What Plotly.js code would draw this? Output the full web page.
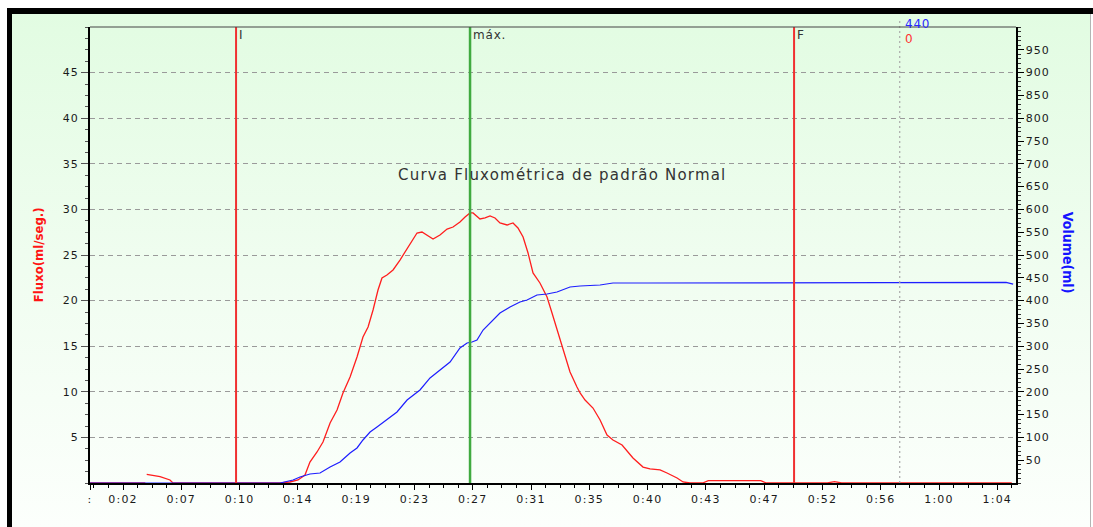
<!DOCTYPE html>
<html>
<head>
<meta charset="utf-8">
<script src="https://cdn.plot.ly/plotly-3.0.1.min.js"></script>
<style>
  html, body { margin: 0; padding: 0; background: #ffffff; }
  #wrap { position: relative; width: 1093px; height: 527px; overflow: hidden; background: #ffffff; }
  #panel { position: absolute; left: 7px; top: 8px; width: 1084px; height: 519px;
           border-top: 6px solid #000; border-left: 5px solid #000; border-right: 1px solid #b4b4b4;
           box-sizing: border-box;
           background: linear-gradient(to bottom, rgb(226,252,226) 0%, rgb(240,253,240) 50%, rgb(252,255,252) 100%); }
  #topband { position: absolute; left: 7px; top: 8px; width: 1086px; height: 6px; background: #000; }
  #chart { position: absolute; left: 0; top: 0; width: 1093px; height: 527px; }
</style>
</head>
<body>
<div id="wrap"><div id="panel"></div><div id="topband"></div><div id="chart"></div></div>
<script>
// ---- data (time in seconds) ----
var flowTime  = [0, 2, 3.9, 3.95, 4.0, 4.94, 5.64, 5.85, 8, 10, 12, 13.4, 14.1, 14.67, 15.16, 15.51, 16.01, 16.43, 16.93, 17.42, 17.84, 18.34, 18.83, 19.25, 19.61, 19.96, 20.31, 20.59, 20.94, 21.37, 21.86, 22.21, 22.57, 23.06, 23.41, 23.77, 24.19, 24.68, 25.18, 25.60, 26.09, 26.45, 26.80, 27.01, 27.50, 27.86, 28.21, 28.56, 28.91, 29.41, 29.83, 30.18, 30.54, 30.89, 31.24, 31.73, 32.23, 32.58, 32.93, 33.36, 33.85, 34.34, 34.56, 34.91, 35.47, 35.97, 36.46, 36.88, 37.52, 38.29, 39.00, 39.49, 40.20, 40.69, 41.40, 41.82, 42.31, 43.2, 43.6, 47.3, 47.7, 50, 52.0, 52.5, 53.0, 55, 60, 65.0];
var flowValue = [0, 0, 0, null, 0.95, 0.69, 0.33, 0, 0, 0, 0, 0, 0.11, 0.33, 0.88, 2.30, 3.40, 4.50, 6.58, 8.00, 9.87, 11.62, 13.82, 16.01, 17.11, 18.97, 21.16, 22.48, 22.81, 23.36, 24.45, 25.33, 26.32, 27.41, 27.52, 27.19, 26.75, 27.19, 27.85, 28.07, 28.62, 29.17, 29.61, 29.61, 28.95, 29.06, 29.28, 29.06, 28.51, 28.29, 28.51, 27.96, 26.97, 25.22, 23.03, 21.93, 20.39, 18.64, 16.78, 14.58, 12.17, 10.53, 9.87, 9.10, 8.22, 6.91, 5.26, 4.71, 4.17, 2.74, 1.75, 1.54, 1.43, 1.10, 0.55, 0.11, 0, 0, 0.25, 0.25, 0, 0, 0, 0.15, 0, 0, 0, 0];

var volTime  = [0, 5, 10, 13.40, 14.32, 14.81, 15.51, 16.22, 16.93, 17.63, 18.34, 18.83, 19.25, 19.75, 20.24, 20.94, 21.65, 22.36, 23.27, 23.98, 24.68, 25.39, 26.09, 26.59, 26.94, 27.29, 27.72, 28.21, 28.91, 29.62, 30.32, 30.82, 31.52, 32.23, 32.93, 33.85, 34.56, 35.97, 36.88, 39.28, 43.0, 48.7, 57.1, 64.6, 65.1];
var volValue = [0, 0, 0, 0, 6.6, 13.2, 19.7, 21.9, 35.1, 46.1, 65.8, 76.8, 94.3, 111.8, 122.8, 138.2, 155.7, 182.0, 204.0, 230.3, 247.8, 265.4, 296.1, 307.0, 309.2, 313.6, 335.5, 350.9, 372.8, 386.0, 397.0, 401.3, 412.3, 414.5, 418.9, 429.8, 432.0, 434.2, 438.6, 438.6, 439, 439, 440, 440, 436];

var tickTimes  = [0, 2.33, 6.44, 10.55, 14.66, 18.77, 22.88, 26.99, 31.10, 35.21, 39.32, 43.43, 47.54, 51.65, 55.76, 59.87, 63.98];
var tickLabels = [":", "0:02", "0:07", "0:10", "0:14", "0:19", "0:23", "0:27", "0:31", "0:35", "0:40", "0:43", "0:47", "0:52", "0:56", "1:00", "1:04"];
var flowTicks  = [5, 10, 15, 20, 25, 30, 35, 40, 45];
var volTicks   = [50, 100, 150, 200, 250, 300, 350, 400, 450, 500, 550, 600, 650, 700, 750, 800, 850, 900, 950];

var markerTimes  = [10.3, 26.8, 49.65];
var markerLabels = ["I", "máx.", "F"];
var markerColors = ["rgb(240,48,48)", "rgb(64,170,64)", "rgb(240,48,48)"];
var cursorTime = 57.1, cursorVolume = "440", cursorFlow = "0";
var chartLabel = "Curva Fluxométrica de padrão Normal";

var tickFont = {family: "DejaVu Sans, sans-serif", size: 11, color: "#1a1a1a"};
function spaced(s, px) { return '<span style="letter-spacing:' + px + 'px">' + s + '</span>'; }

var traces = [
  {x: flowTime, y: flowValue, type: "scatter", mode: "lines", yaxis: "y", connectgaps: false,
   line: {color: "rgb(255,30,30)", width: 1.3}, hoverinfo: "skip"},
  {x: volTime, y: volValue, type: "scatter", mode: "lines", yaxis: "y2",
   line: {color: "rgb(30,30,255)", width: 1.2}, hoverinfo: "skip"}
];

var shapes = [];
markerTimes.forEach(function (t, i) {
  shapes.push({type: "line", xref: "x", yref: "paper", x0: t, x1: t, y0: 0, y1: 1,
               line: {color: markerColors[i], width: i === 1 ? 2.5 : 2}});
});
shapes.push({type: "line", xref: "x", yref: "paper", x0: cursorTime, x1: cursorTime, y0: 0, y1: 1.016,
             line: {color: "#aaaaaa", width: 1.2, dash: "2px,3px"}});
shapes.push({type: "line", xref: "paper", yref: "paper", x0: 0, x1: 1, y0: 1, y1: 1,
             line: {color: "#444", width: 1}});

var annotations = [];
markerTimes.forEach(function (t, i) {
  annotations.push({x: t, y: 1, xref: "x", yref: "paper", text: spaced(markerLabels[i], 0.8), showarrow: false,
                    xanchor: "left", yanchor: "top", xshift: 1, yshift: 1,
                    font: {family: "DejaVu Sans, sans-serif", size: 12, color: "#333"}});
});
annotations.push({x: cursorTime, y: 1, xref: "x", yref: "paper", text: spaced(cursorVolume, 0.8), showarrow: false,
                  xanchor: "left", yanchor: "middle", xshift: 3, yshift: 3,
                  font: {family: "DejaVu Sans, sans-serif", size: 12, color: "rgb(40,40,255)"}});
annotations.push({x: cursorTime, y: 1, xref: "x", yref: "paper", text: cursorFlow, showarrow: false,
                  xanchor: "left", yanchor: "middle", xshift: 3, yshift: -12,
                  font: {family: "DejaVu Sans, sans-serif", size: 12, color: "rgb(255,50,50)"}});
annotations.push({x: 0.51, y: 0.675, xref: "paper", yref: "paper",
                  text: spaced(chartLabel, 1.2), showarrow: false,
                  xanchor: "center", yanchor: "middle",
                  font: {family: "DejaVu Sans, sans-serif", size: 15, color: "#333"}});
annotations.push({x: -0.056, y: 0.5, xref: "paper", yref: "paper", text: "Fluxo(ml/seg.)", showarrow: false,
                  textangle: -90, xanchor: "center", yanchor: "middle",
                  font: {family: "Liberation Sans Narrow, DejaVu Sans Condensed, sans-serif", size: 13, color: "rgb(255,20,20)", weight: "bold"}});
annotations.push({x: 1.056, y: 0.505, xref: "paper", yref: "paper", text: "Volume(ml)", showarrow: false,
                  textangle: 90, xanchor: "center", yanchor: "middle",
                  font: {family: "Liberation Sans Narrow, DejaVu Sans Condensed, sans-serif", size: 14, color: "rgb(20,20,255)", weight: "bold"}});

var layout = {
  width: 1093, height: 527,
  margin: {l: 90, r: 77, t: 27, b: 44},
  paper_bgcolor: "rgba(0,0,0,0)", plot_bgcolor: "rgba(0,0,0,0)",
  showlegend: false,
  xaxis: {range: [0, 65.3], tickmode: "array", tickvals: tickTimes,
          ticktext: tickLabels.map(function (s) { return spaced(s, 1.2); }),
          ticks: "outside", ticklen: 5, tickcolor: "#000", tickwidth: 1,
          showline: true, linecolor: "#000", linewidth: 2, showgrid: false, zeroline: false,
          tickfont: tickFont,
          minor: {tickmode: "linear", tick0: 2.33, dtick: 1.0275, ticks: "outside", ticklen: 3, tickcolor: "#000", showgrid: false}},
  yaxis: {range: [0, 50], tickmode: "array", tickvals: flowTicks,
          ticktext: flowTicks.map(function (v) { return spaced(String(v), 1); }),
          ticks: "outside", ticklen: 7, tickcolor: "#555", tickwidth: 1,
          showline: true, linecolor: "#000", linewidth: 2, zeroline: false,
          showgrid: true, gridcolor: "#9a9a9a", gridwidth: 1, griddash: "5px,4px",
          tickfont: tickFont,
          minor: {tickmode: "linear", tick0: 0, dtick: 1.25, ticks: "outside", ticklen: 3, tickcolor: "#555", showgrid: false}},
  yaxis2: {range: [0, 1000], overlaying: "y", side: "right", tickmode: "array", tickvals: volTicks,
           ticktext: volTicks.map(function (v) { return spaced(String(v), 1); }),
           ticks: "outside", ticklen: 6, tickcolor: "#000", tickwidth: 1,
           showline: true, linecolor: "#000", linewidth: 1.5, zeroline: false, showgrid: false,
           tickfont: tickFont,
           minor: {tickmode: "linear", tick0: 0, dtick: 10, ticks: "outside", ticklen: 3, tickcolor: "#333", showgrid: false}},
  shapes: shapes,
  annotations: annotations
};

Plotly.newPlot("chart", traces, layout, {staticPlot: true, displayModeBar: false});
</script>
</body>
</html>
